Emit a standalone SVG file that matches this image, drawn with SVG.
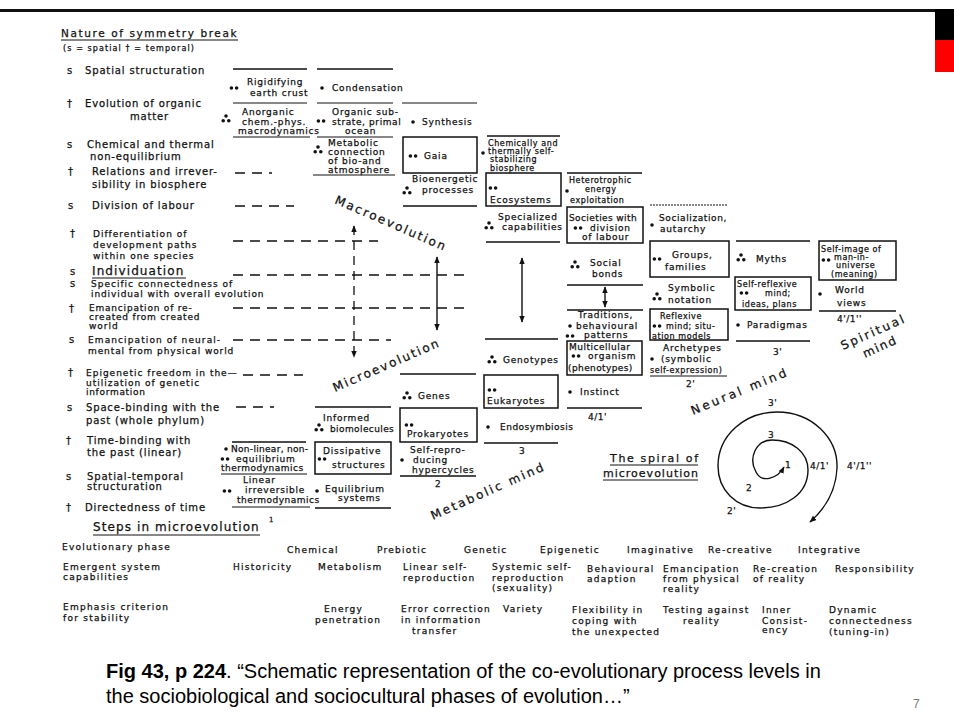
<svg xmlns="http://www.w3.org/2000/svg" xmlns:xlink="http://www.w3.org/1999/xlink" width="954" height="722" viewBox="0 0 954 722">
<style>
text{font-family:"DejaVu Sans",sans-serif;fill:#111;stroke:#111;stroke-width:.25px}
.lb{font-size:10px;letter-spacing:.85px}
.lt{font-size:9px;letter-spacing:1px}
.c{font-size:9px;letter-spacing:.8px}
.s{font-size:8px;letter-spacing:.6px}
.tb{font-size:9px;letter-spacing:1.25px}
.big{font-size:12px;letter-spacing:1.1px}
.rot{font-size:12px}
.num{font-size:9px;letter-spacing:.5px}
.cap{font-family:"Liberation Sans",Arial,sans-serif;font-size:20px;fill:#000;stroke:none}
.sl{stroke:#111;stroke-width:1.4;fill:none}
.ul{stroke:#111;stroke-width:1;fill:none}
.dl{stroke:#111;stroke-width:1.3;stroke-dasharray:10 7;fill:none}
.bx{stroke:#111;stroke-width:1.5;fill:none}
.d circle{fill:#111}
</style>
<defs>
<g id="d1" class="d"><circle cx="0" cy="0" r="1.8"/></g>
<g id="d2" class="d"><circle cx="-2.6" cy="0" r="1.8"/><circle cx="2.6" cy="0" r="1.8"/></g>
<g id="d3" class="d"><circle cx="0" cy="-3" r="1.8"/><circle cx="-2.8" cy="1.8" r="1.8"/><circle cx="2.8" cy="1.8" r="1.8"/></g>
<marker id="ah" viewBox="0 0 10 10" refX="9" refY="5" markerWidth="7" markerHeight="7" orient="auto-start-reverse" markerUnits="userSpaceOnUse"><path d="M0,1 L10,5 L0,9 Z" fill="#111"/></marker>
</defs>
<rect width="954" height="722" fill="#fff"/>
<!-- slide frame -->
<g id="frame">
<rect x="0" y="9" width="935" height="3" fill="#111"/>
<rect x="935" y="9" width="19" height="31" fill="#000"/>
<rect x="935" y="40" width="19" height="32" fill="#ff0000"/>
</g>
<!-- header and left labels -->
<g id="header">
<text class="lb" x="61" y="37" style="font-size:10.5px;letter-spacing:1.6px">Nature of symmetry break</text>
<line class="ul" x1="61" y1="40" x2="238" y2="40"/>
<text class="s" x="63" y="51" style="letter-spacing:1.1px">(s = spatial   † = temporal)</text>
</g>
<g id="labels">
<text class="lb" x="67" y="74">s</text><text class="lb" x="85" y="74">Spatial structuration</text>
<text class="lb" x="67" y="107">†</text><text class="lb" x="85" y="107">Evolution of organic</text><text class="lb" x="130" y="120">matter</text>
<text class="lb" x="67" y="148">s</text><text class="lb" x="87" y="148">Chemical and thermal</text><text class="lb" x="90" y="160">non-equilibrium</text>
<text class="lb" x="68" y="175">†</text><text class="lb" x="92" y="175">Relations and irrever-</text><text class="lb" x="92" y="188">sibility in biosphere</text>
<text class="lb" x="68" y="209">s</text><text class="lb" x="92" y="209">Division of labour</text>
<text class="lb" x="70" y="237">†</text><text class="lt" x="93" y="237">Differentiation of</text><text class="lt" x="93" y="248">development paths</text><text class="lt" x="93" y="259">within one species</text>
<text class="lb" x="70" y="275">s</text><text class="big" x="92" y="275">Individuation</text><line class="ul" x1="92" y1="278" x2="186" y2="278"/>
<text class="lb" x="70" y="287">s</text><text class="lt" x="91" y="287" style="letter-spacing:1px">Specific connectedness of</text><text class="lt" x="91" y="297" style="letter-spacing:.9px">individual with overall evolution</text>
<text class="lb" x="69" y="312">†</text><text class="lt" x="89" y="311" style="letter-spacing:.8px">Emancipation of re-</text><text class="lt" x="89" y="320" style="letter-spacing:.8px">created from created</text><text class="lt" x="89" y="329">world</text>
<text class="lb" x="69" y="343">s</text><text class="lt" x="88" y="343" style="letter-spacing:1.1px">Emancipation of neural-</text><text class="lt" x="88" y="354" style="letter-spacing:.9px">mental from physical world</text>
<text class="lb" x="68" y="376">†</text><text class="lt" x="86" y="376">Epigenetic freedom in the—</text><text class="lt" x="86" y="386">utilization of genetic</text><text class="lt" x="86" y="395" style="letter-spacing:.7px">information</text>
<text class="lb" x="67" y="411">s</text><text class="lb" x="86" y="411">Space-binding with the</text><text class="lb" x="86" y="424">past (whole phylum)</text>
<text class="lb" x="66" y="444">†</text><text class="lb" x="87" y="444">Time-binding with</text><text class="lb" x="87" y="456">the past (linear)</text>
<text class="lb" x="66" y="480">s</text><text class="lb" x="87" y="480">Spatial-temporal</text><text class="lb" x="87" y="490">structuration</text>
<text class="lb" x="66" y="511">†</text><text class="lb" x="85" y="511">Directedness of time</text>
</g>
<!-- connectors: dashed guide lines and arrows -->
<g id="connectors">
<line class="dl" x1="235" y1="173" x2="272" y2="173"/>
<line class="dl" x1="235" y1="206" x2="294" y2="206"/>
<line class="dl" x1="233" y1="241" x2="378" y2="241"/>
<line class="dl" x1="233" y1="275" x2="468" y2="275"/>
<line class="dl" x1="233" y1="308" x2="468" y2="308"/>
<line class="dl" x1="233" y1="340" x2="391" y2="340"/>
<line class="dl" x1="243" y1="375" x2="303" y2="375"/>
<line class="dl" x1="236" y1="407" x2="274" y2="407"/>
<line class="dl" x1="354" y1="226" x2="354" y2="357" style="stroke-dasharray:9 6" marker-start="url(#ah)" marker-end="url(#ah)"/>
<line class="sl" x1="437" y1="257" x2="437" y2="330" marker-start="url(#ah)" marker-end="url(#ah)"/>
<line class="sl" x1="522" y1="258" x2="522" y2="322" marker-start="url(#ah)" marker-end="url(#ah)"/>
<line class="sl" x1="605" y1="287" x2="605" y2="307" marker-start="url(#ah)" marker-end="url(#ah)"/>
</g>
<!-- column A -->
<g id="colA">
<line class="sl" x1="233" y1="69" x2="307" y2="69"/>
<use href="#d2" x="234" y="88"/><text class="c" x="247" y="85">Rigidifying</text><text class="c" x="250" y="96">earth crust</text>
<line class="ul" x1="233" y1="103" x2="307" y2="103"/>
<use href="#d3" x="226" y="119"/><text class="c" x="242" y="115">Anorganic</text><text class="c" x="242" y="125">chem.-phys.</text><text class="c" x="238" y="134">macrodynamics</text>
<line class="ul" x1="233" y1="137" x2="310" y2="137"/>
</g>
<g id="colB">
<line class="sl" x1="317" y1="69" x2="393" y2="69"/>
<use href="#d1" x="322" y="88"/><text class="c" x="332" y="91">Condensation</text>
<line class="ul" x1="317" y1="103" x2="393" y2="103"/>
<use href="#d2" x="321" y="121"/><text class="c" x="332" y="115">Organic sub-</text><text class="c" x="332" y="125" style="letter-spacing:.6px">strate, primal</text><text class="c" x="345" y="134">ocean</text>
<line class="ul" x1="317" y1="137" x2="393" y2="137"/>
<use href="#d3" x="318" y="150"/><text class="c" x="328" y="146">Metabolic</text><text class="c" x="328" y="155">connection</text><text class="c" x="328" y="164">of bio-and</text><text class="c" x="328" y="173">atmosphere</text>
<line class="ul" x1="313" y1="175" x2="395" y2="175"/>
</g>
<g id="colC">
<line class="ul" x1="402" y1="103" x2="477" y2="103"/>
<use href="#d1" x="413" y="122"/><text class="c" x="422" y="125">Synthesis</text>
<rect class="bx" x="403" y="137" width="74" height="36"/>
<use href="#d2" x="413" y="156"/><text class="c" x="424" y="159">Gaia</text>
<text class="c" x="412" y="182">Bioenergetic</text><use href="#d3" x="407" y="191"/><text class="c" x="422" y="193">processes</text>
<line class="sl" x1="403" y1="206" x2="477" y2="206"/>
</g>
<g id="colD">
<line class="sl" x1="487" y1="136" x2="560" y2="136"/>
<use href="#d1" x="483" y="153"/><text class="s" x="488" y="146">Chemically and</text><text class="s" x="488" y="154">thermally self-</text><text class="s" x="490" y="162">stabilizing</text><text class="s" x="490" y="171">biosphere</text>
<rect class="bx" x="486" y="173" width="75" height="33"/>
<use href="#d2" x="493" y="188"/><text class="c" x="490" y="203">Ecosystems</text>
<text class="c" x="498" y="220">Specialized</text><use href="#d3" x="489" y="226"/><text class="c" x="502" y="230">capabilities</text>
<line class="sl" x1="486" y1="242" x2="560" y2="242"/>
</g>
<g id="colE">
<line class="sl" x1="567" y1="173" x2="642" y2="173"/>
<text class="s" x="569" y="183">Heterotrophic</text><use href="#d1" x="567" y="191"/><text class="s" x="585" y="192">energy</text><text class="s" x="570" y="203">exploitation</text>
<rect class="bx" x="567" y="207" width="76" height="36"/>
<text class="c" x="569" y="221" style="letter-spacing:.4px">Societies with</text><use href="#d2" x="578" y="228"/><text class="c" x="590" y="231">division</text><text class="c" x="582" y="240">of labour</text>
<use href="#d3" x="575" y="265"/><text class="c" x="590" y="266">Social</text><text class="c" x="592" y="277">bonds</text>
<line class="sl" x1="567" y1="285" x2="643" y2="285"/>
<line class="sl" x1="567" y1="310" x2="643" y2="310"/>
<text class="c" x="578" y="318">Traditions,</text><use href="#d1" x="570" y="326"/><text class="c" x="576" y="329">behavioural</text><use href="#d2" x="570" y="336"/><text class="c" x="584" y="338">patterns</text>
<rect class="bx" x="567" y="341" width="75" height="34"/>
<text class="c" x="569" y="350" style="letter-spacing:.5px">Multicellular</text><use href="#d2" x="576" y="356"/><text class="c" x="588" y="359">organism</text><text class="c" x="568" y="371" style="letter-spacing:.4px">(phenotypes)</text>
<use href="#d1" x="570" y="392"/><text class="c" x="580" y="395">Instinct</text>
<line class="sl" x1="567" y1="408" x2="642" y2="408"/>
<text class="num" x="588" y="420">4/1'</text>
</g>
<g id="colF">
<line class="ul" x1="650" y1="205" x2="728" y2="205" style="stroke-dasharray:2 1"/>
<use href="#d1" x="652" y="225"/><text class="c" x="659" y="221" style="letter-spacing:.6px">Socialization,</text><text class="c" x="660" y="232">autarchy</text>
<rect class="bx" x="650" y="241" width="79" height="36"/>
<use href="#d2" x="657" y="259"/><text class="c" x="672" y="258">Groups,</text><text class="c" x="665" y="270">families</text>
<text class="c" x="668" y="291">Symbolic</text><use href="#d3" x="657" y="297"/><text class="c" x="668" y="303">notation</text>
<rect class="bx" x="650" y="309" width="78" height="31"/>
<text class="s" x="660" y="319">Reflexive</text><use href="#d2" x="657" y="326"/><text class="s" x="666" y="329">mind; situ-</text><text class="s" x="652" y="339">ation models</text>
<text class="c" x="663" y="351">Archetypes</text><use href="#d1" x="652" y="359"/><text class="c" x="661" y="362">(symbolic</text><text class="s" x="650" y="373">self-expression)</text>
<line class="ul" x1="650" y1="376" x2="727" y2="376"/>
<text class="num" x="686" y="387">2'</text>
</g>
<g id="colG">
<line class="sl" x1="736" y1="241" x2="810" y2="241"/>
<use href="#d3" x="741" y="258"/><text class="c" x="756" y="262">Myths</text>
<rect class="bx" x="735" y="277" width="76" height="33"/>
<text class="s" x="737" y="287">Self-reflexive</text><use href="#d2" x="744" y="293"/><text class="s" x="765" y="296">mind;</text><text class="s" x="742" y="307">ideas, plans</text>
<use href="#d1" x="738" y="325"/><text class="c" x="747" y="328">Paradigmas</text>
<line class="sl" x1="736" y1="341" x2="810" y2="341"/>
<text class="num" x="773" y="355">3'</text>
</g>
<g id="colH">
<rect class="bx" x="819" y="241" width="77" height="39"/>
<text class="s" x="821" y="252">Self-image of</text><use href="#d2" x="826" y="260"/><text class="s" x="834" y="260">man-in-</text><text class="s" x="836" y="268">universe</text><text class="s" x="831" y="277">(meaning)</text>
<use href="#d1" x="820" y="294"/><text class="c" x="835" y="293">World</text><text class="c" x="837" y="306">views</text>
<line class="sl" x1="819" y1="311" x2="896" y2="311"/>
<text class="num" x="837" y="322">4'/1''</text>
</g>
<g id="colA2">
<line class="sl" x1="232" y1="442" x2="306" y2="442"/>
<use href="#d1" x="226" y="449"/><text class="c" x="231" y="452" style="letter-spacing:.3px">Non-linear, non-</text>
<use href="#d2" x="225" y="459"/><text class="c" x="236" y="462">equilibrium</text><text class="c" x="221" y="471" style="letter-spacing:.5px">thermodynamics</text>
<line class="ul" x1="221" y1="474" x2="307" y2="474"/>
<text class="c" x="243" y="483">Linear</text><use href="#d2" x="227" y="491"/><text class="c" x="245" y="493">irreversible</text><text class="c" x="237" y="503" style="letter-spacing:.5px">thermodynamics</text>
<line class="ul" x1="232" y1="507" x2="310" y2="507"/>
<text class="num" x="269" y="522" style="font-size:7px">1</text>
</g>
<g id="colB2">
<line class="sl" x1="315" y1="407" x2="391" y2="407"/>
<use href="#d3" x="319" y="428"/><text class="c" x="323" y="421">Informed</text><text class="c" x="330" y="432" style="letter-spacing:.4px">biomolecules</text>
<rect class="bx" x="315" y="442" width="76" height="32"/>
<text class="c" x="323" y="454">Dissipative</text><use href="#d2" x="322" y="459"/><text class="c" x="332" y="468">structures</text>
<use href="#d1" x="317" y="491"/><text class="c" x="325" y="492">Equilibrium</text><text class="c" x="338" y="501">systems</text>
<line class="sl" x1="315" y1="508" x2="391" y2="508"/>
</g>
<g id="colC2">
<line class="sl" x1="400" y1="374" x2="476" y2="374"/>
<use href="#d3" x="407" y="396"/><text class="c" x="418" y="399">Genes</text>
<rect class="bx" x="400" y="408" width="77" height="34"/>
<use href="#d2" x="409" y="425"/><text class="c" x="407" y="437">Prokaryotes</text>
<text class="c" x="410" y="453">Self-repro-</text><use href="#d1" x="402" y="460"/><text class="c" x="413" y="463">ducing</text><text class="c" x="412" y="473">hypercycles</text>
<line class="sl" x1="400" y1="476" x2="476" y2="476"/>
<text class="num" x="435" y="487">2</text>
</g>
<g id="colD2">
<line class="sl" x1="485" y1="339" x2="558" y2="339"/>
<use href="#d3" x="492" y="360"/><text class="c" x="503" y="363">Genotypes</text>
<rect class="bx" x="484" y="375" width="74" height="33"/>
<use href="#d2" x="492" y="390"/><text class="c" x="487" y="404">Eukaryotes</text>
<use href="#d1" x="488" y="427"/><text class="c" x="500" y="430" style="letter-spacing:.5px">Endosymbiosis</text>
<line class="sl" x1="484" y1="443" x2="558" y2="443"/>
<text class="num" x="519" y="454">3</text>
</g>
<!-- rotated labels -->
<g id="rotated">
<text class="rot" x="334" y="203" transform="rotate(23.5 334 203)" textLength="119" lengthAdjust="spacing">Macroevolution</text>
<text class="rot" x="335" y="392" transform="rotate(-23.5 335 392)" textLength="114" lengthAdjust="spacing">Microevolution</text>
<text class="rot" x="433" y="520" transform="rotate(-24 433 520)" textLength="122" lengthAdjust="spacing">Metabolic mind</text>
<text class="rot" x="693" y="415" transform="rotate(-22.5 693 415)" textLength="102" lengthAdjust="spacing">Neural mind</text>
<text class="rot" x="843" y="350" transform="rotate(-24 843 350)" textLength="68" lengthAdjust="spacing">Spiritual</text>
<text class="rot" x="865" y="358" transform="rotate(-24 865 358)" textLength="35" lengthAdjust="spacing">mind</text>
</g>
<!-- spiral -->
<g id="spiral">
<path class="sl" d="M784,467 C778,478 762,484 756,472 C748,458 756,440 772,440 C792,440 808,452 808,470 C808,494 786,508 760,508 C736,508 718,490 718,466 C718,436 744,412 777,412 C812,412 838,438 837,468 C836,490 826,508 810,522" marker-start="url(#ah)" marker-end="url(#ah)"/>
<text class="num" x="785" y="468">1</text>
<text class="num" x="768" y="438">3</text>
<text class="num" x="810" y="469">4/1'</text>
<text class="num" x="847" y="469">4'/1''</text>
<text class="num" x="768" y="406">3'</text>
<text class="num" x="746" y="491">2</text>
<text class="num" x="727" y="514">2'</text>
<text x="610" y="462" style="font-size:11px" textLength="88" lengthAdjust="spacing">The spiral of</text>
<line class="ul" x1="610" y1="465" x2="698" y2="465"/>
<text x="603" y="477" style="font-size:11px" textLength="95" lengthAdjust="spacing">microevolution</text>
<line class="ul" x1="603" y1="480" x2="698" y2="480"/>
</g>
<!-- steps table -->
<g id="table">
<text class="big" x="93" y="531">Steps in microevolution</text>
<line class="ul" x1="93" y1="535" x2="260" y2="535"/>
<text class="tb" x="62" y="550">Evolutionary phase</text>
<text class="tb" x="63" y="570">Emergent system</text><text class="tb" x="63" y="580">capabilities</text>
<text class="tb" x="63" y="610">Emphasis criterion</text><text class="tb" x="63" y="621">for stability</text>
<text class="tb" x="287" y="553">Chemical</text>
<text class="tb" x="377" y="553">Prebiotic</text>
<text class="tb" x="464" y="553">Genetic</text>
<text class="tb" x="540" y="553">Epigenetic</text>
<text class="tb" x="627" y="553">Imaginative</text>
<text class="tb" x="708" y="553">Re-creative</text>
<text class="tb" x="798" y="553">Integrative</text>
<text class="tb" x="233" y="570">Historicity</text>
<text class="tb" x="318" y="570">Metabolism</text>
<text class="tb" x="403" y="570">Linear self-</text><text class="tb" x="403" y="581">reproduction</text>
<text class="tb" x="492" y="570">Systemic self-</text><text class="tb" x="492" y="581">reproduction</text><text class="tb" x="492" y="591">(sexuality)</text>
<text class="tb" x="587" y="572">Behavioural</text><text class="tb" x="587" y="582">adaption</text>
<text class="tb" x="663" y="572">Emancipation</text><text class="tb" x="663" y="582">from physical</text><text class="tb" x="663" y="592">reality</text>
<text class="tb" x="753" y="572">Re-creation</text><text class="tb" x="753" y="582">of reality</text>
<text class="tb" x="835" y="572">Responsibility</text>
<text class="tb" x="324" y="612">Energy</text><text class="tb" x="315" y="623">penetration</text>
<text class="tb" x="401" y="612">Error correction</text><text class="tb" x="401" y="623">in information</text><text class="tb" x="412" y="634">transfer</text>
<text class="tb" x="503" y="612">Variety</text>
<text class="tb" x="572" y="613">Flexibility in</text><text class="tb" x="572" y="624">coping with</text><text class="tb" x="572" y="635">the unexpected</text>
<text class="tb" x="663" y="613">Testing against</text><text class="tb" x="683" y="624">reality</text>
<text class="tb" x="762" y="613">Inner</text><text class="tb" x="762" y="624">Consist-</text><text class="tb" x="762" y="633">ency</text>
<text class="tb" x="829" y="613">Dynamic</text><text class="tb" x="829" y="624">connectedness</text><text class="tb" x="829" y="635">(tuning-in)</text>
</g>
<!-- caption -->
<g id="caption">
<text class="cap" x="106" y="678"><tspan font-weight="bold">Fig 43, p 224</tspan>. “Schematic representation of the co-evolutionary process levels in</text>
<text class="cap" x="106" y="703">the sociobiological and sociocultural phases of evolution…”</text>
<text x="913" y="708" style="font-family:'Liberation Sans',Arial,sans-serif;font-size:12px;fill:#777;stroke:none">7</text>
</g>
</svg>
